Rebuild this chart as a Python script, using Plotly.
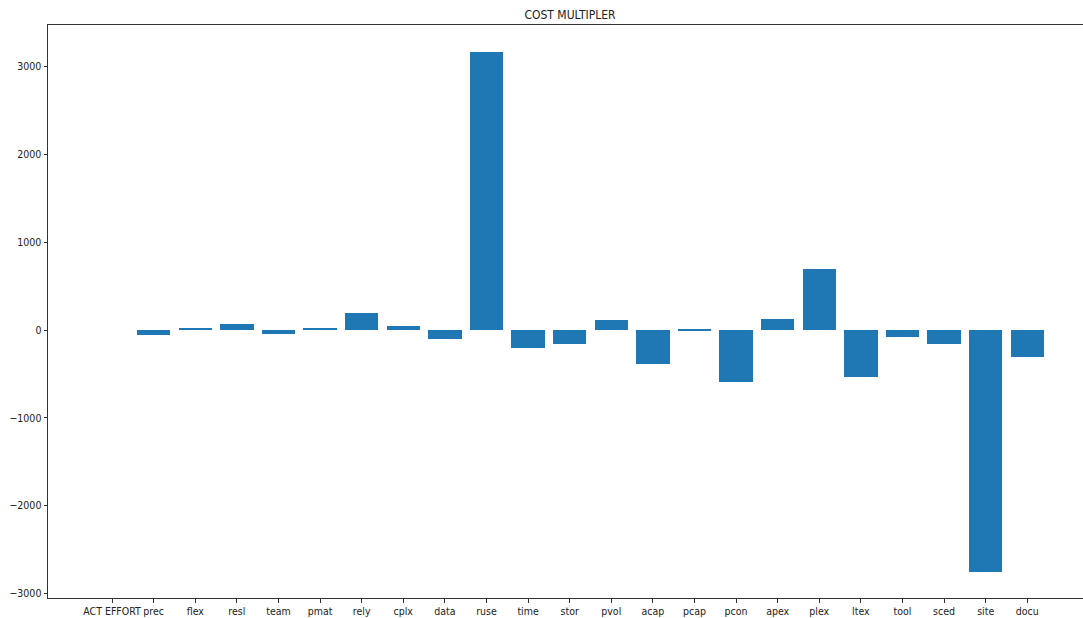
import plotly.graph_objects as go

categories = ["ACT EFFORT", "prec", "flex", "resl", "team", "pmat", "rely", "cplx",
              "data", "ruse", "time", "stor", "pvol", "acap", "pcap", "pcon",
              "apex", "plex", "ltex", "tool", "sced", "site", "docu"]
values = [0, -60, 25, 70, -50, 25, 190, 50,
          -100, 3170, -205, -160, 110, -385, 10, -595,
          125, 700, -540, -85, -155, -2752, -310]
title_text = "COST MULTIPLER"
y_ticks = [-3000, -2000, -1000, 0, 1000, 2000, 3000]

x_idx = list(range(len(categories)))

fig = go.Figure(go.Bar(
    x=x_idx, y=values, width=0.8,
    marker=dict(color="#1f77b4", line=dict(width=0)),
))

W, H = 1083, 618
fam = "DejaVu Sans Condensed, DejaVu Sans"
font = dict(family=fam, size=10.5, color="#222222")
fig.update_layout(
    width=W, height=H,
    margin=dict(l=48, r=0, t=25, b=20),
    paper_bgcolor="white", plot_bgcolor="white",
    font=font,
    showlegend=False,
    title=dict(text=title_text, x=570 / W, xref="container", xanchor="center",
               y=1 - 15 / H, yref="container", yanchor="middle",
               font=dict(family=fam, size=12, color="#222222")),
    bargap=0,
)
fig.update_xaxes(
    range=[-1.54, 23.34], automargin=False, tickangle=0,
    tickmode="array", tickvals=x_idx, ticktext=categories,
    showgrid=False, zeroline=False,
    showline=True, linecolor="#333333", linewidth=1, mirror=True,
    ticks="outside", ticklen=3.5, tickcolor="#333333", tickwidth=1,
)
fig.update_yaxes(
    range=[-3052, 3474], automargin=False,
    tickmode="array", tickvals=y_ticks,
    showgrid=False, zeroline=False,
    showline=True, linecolor="#333333", linewidth=1, mirror=False,
    ticks="outside", ticklen=3.5, tickcolor="#333333", tickwidth=1,
)

fig.write_html(
    "out.html",
    config={"displayModeBar": False},
    post_script="document.body.style.margin='0';document.body.style.overflow='hidden';",
)
